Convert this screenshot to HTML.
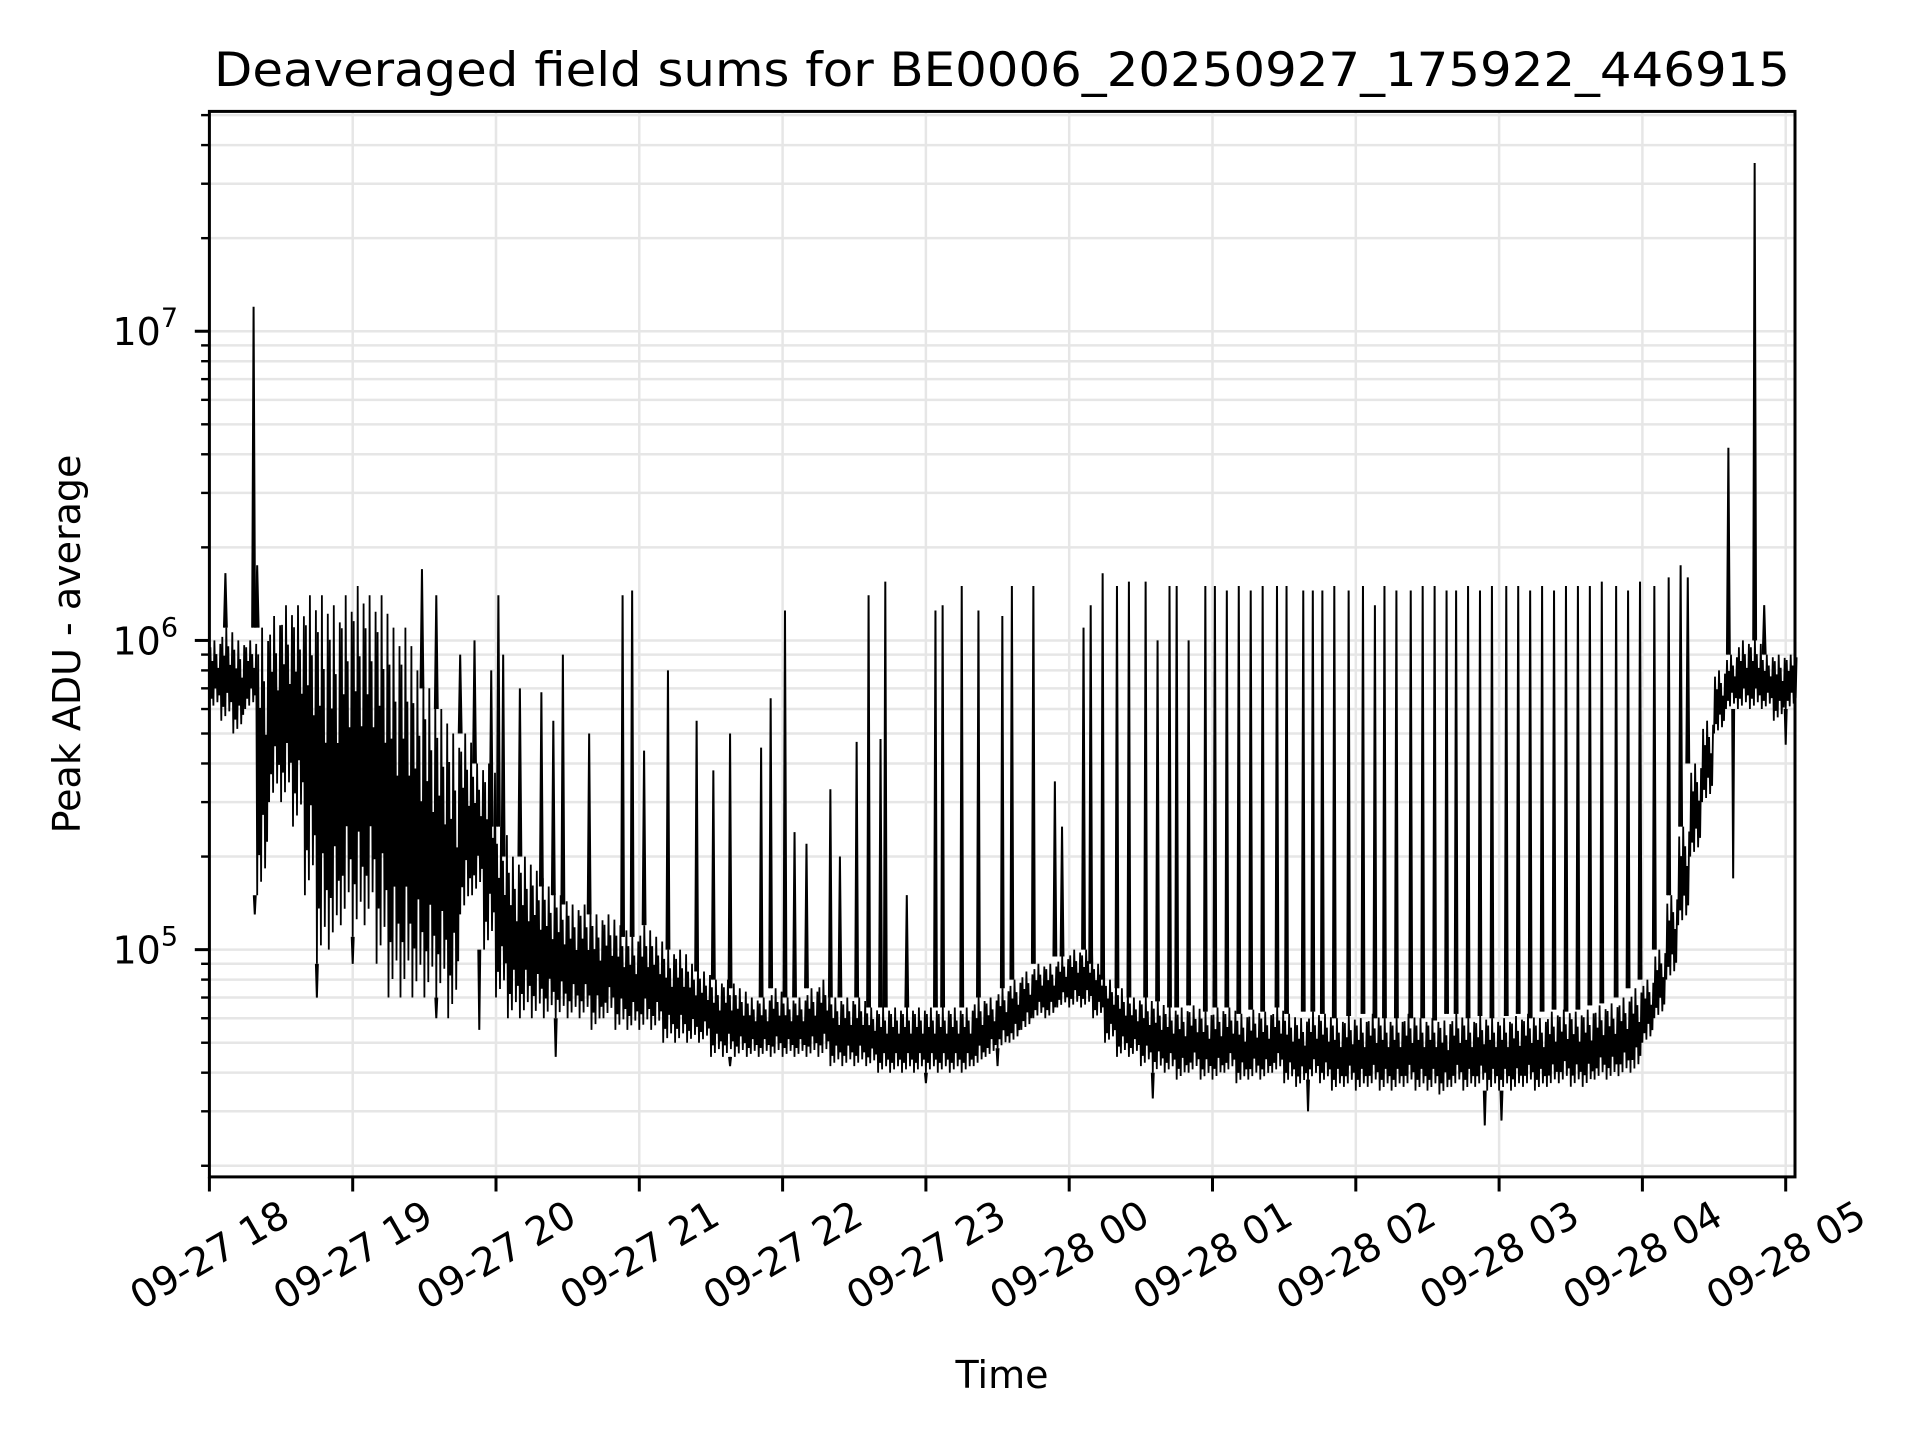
<!DOCTYPE html>
<html><head><meta charset="utf-8"><title>Deaveraged field sums</title>
<style>html,body{margin:0;padding:0;background:#fff}svg{display:block}text{font-family:"DejaVu Sans","Liberation Sans",sans-serif;fill:#000}</style></head>
<body>
<svg id="chart" width="1920" height="1440" viewBox="0 0 1920 1440" xmlns="http://www.w3.org/2000/svg">
<rect width="1920" height="1440" fill="#fff"/>
<g id="grid"></g>
<g id="series"></g>
<rect x="209.4" y="111.4" width="1585.6" height="1065.5" fill="none" stroke="#000" stroke-width="3"/>
<g id="axes"></g>
<text x="1002" y="86" text-anchor="middle" font-size="47" textLength="1576" lengthAdjust="spacingAndGlyphs">Deaveraged field sums for BE0006_20250927_175922_446915</text>
<text x="1002" y="1388" text-anchor="middle" font-size="38">Time</text>
<text transform="translate(80,644) rotate(-90)" text-anchor="middle" font-size="38">Peak ADU - average</text>
</svg>
<script>
// bins every 5 minutes starting 09-27 18:00
const binLow = [6e5,5.5e5,5e5,6e5,1.5e5,3e5,3e5,2.5e5,1.5e5,9e4,1e5,1.2e5,1.1e5,1.2e5,9e4,7e4,7e4,7e4,7e4,7e4,6e4,1.3e5,1.5e5,1e5,
7e4,6e4,6e4,6e4,6e4,6e4,6e4,6e4,5.5e4,6e4,5.5e4,5.5e4,5.5e4,5.5e4,5e4,5e4,5e4,5e4,4.5e4,4.5e4,4.5e4,4.5e4,4.5e4,4.5e4,
4.5e4,4.5e4,4.5e4,4.5e4,4.2e4,4.2e4,4.2e4,4.2e4,4e4,4e4,4e4,4e4,4e4,4e4,4e4,4e4,4.2e4,4.5e4,4.8e4,5e4,5.5e4,6e4,6e4,6.5e4,
6.5e4,6.5e4,6e4,5e4,4.5e4,4.5e4,4.2e4,4e4,4e4,3.8e4,4e4,3.8e4,3.8e4,4e4,3.7e4,3.8e4,3.8e4,4e4,3.7e4,3.6e4,3.8e4,3.7e4,
3.5e4,3.6e4,3.5e4,3.6e4,3.5e4,3.5e4,3.6e4,3.5e4,3.5e4,3.4e4,3.6e4,3.5e4,3.6e4,3.5e4,3.5e4,3.5e4,3.6e4,3.5e4,3.6e4,3.7e4,3.6e4,3.6e4,3.8e4,3.8e4,3.9e4,4e4,
5e4,6e4,8e4,1.2e5,2e5,3e5,5e5,6e5,6e5,6e5,6e5,5.5e5,6e5];
const binHigh = [1e6,1.1e6,1e6,1e6,1.1e6,1.2e6,1.3e6,1.3e6,1.4e6,1.4e6,1.3e6,1.4e6,1.5e6,1.4e6,1.4e6,1.1e6,1.1e6,8e5,7e5,6e5,5e5,5e5,4e5,4e5,
2.5e5,2e5,2e5,1.8e5,1.6e5,1.5e5,1.4e5,1.4e5,1.3e5,1.3e5,1.2e5,1.1e5,1.2e5,1.1e5,1e5,1e5,9e4,8.5e4,8e4,8e4,7.5e4,7e4,7e4,7.5e4,
7e4,7e4,7.5e4,8e4,7e4,7e4,7e4,6.5e4,6.5e4,6.5e4,6.5e4,6.5e4,6.5e4,6.5e4,6.5e4,6.5e4,7e4,7e4,7.5e4,8e4,8.5e4,9e4,9e4,9.5e4,
1e5,1e5,9e4,8e4,7.5e4,7e4,7e4,6.8e4,6.5e4,6.5e4,6.6e4,6.3e4,6.5e4,6.5e4,6.2e4,6.4e4,6.3e4,6.5e4,6.2e4,6e4,6.3e4,6.2e4,
6e4,6.1e4,6e4,6.2e4,6e4,6e4,6.2e4,6e4,6e4,5.9e4,6.2e4,6e4,6.1e4,6e4,6e4,6.1e4,6.2e4,6e4,6.3e4,6.4e4,6.3e4,6.4e4,6.6e4,6.7e4,7e4,7.5e4,
8e4,1e5,1.5e5,2.5e5,4e5,5.5e5,8e5,9e5,1e6,1e6,9e5,9e5,9e5];
const spikeMinutes = [6.7,18.5,20,89,95,105,111,118,121,123,130,139,144,148,159,173,177,182,192,204,211,218,231,235,241,245,250,260,264,271,276,281,283,292,304,307,315,322,332,336,345,354,357,
366,369,374,380,385,392,397,402,405,410,417,421,426,431,436,441,447,451,458,462,466,471,477,483,488,492,497,503,508,513,518,522,527,532,537,543,548,553,558,563,568,573,578,583,589,594,599,605,611,616,619,636,647,651];
const spikeValues = [1.65e6,1.2e7,1.75e6,1.7e6,1.4e6,9e5,1e6,8e5,1.4e6,9e5,7e5,6.8e5,5.5e5,9e5,5e5,1.4e6,1.45e6,4.4e5,8e5,5.5e5,3.8e5,5e5,4.5e5,6.5e5,1.25e6,2.4e5,2.2e5,3.3e5,2e5,4.7e5,1.4e6,4.8e5,1.55e6,1.5e5,1.25e6,1.3e6,1.5e6,1.25e6,1.2e6,1.5e6,1.5e6,3.5e5,2.5e5,
1.1e6,1.3e6,1.65e6,1.5e6,1.55e6,1.55e6,1e6,1.5e6,1.5e6,1e6,1.5e6,1.5e6,1.45e6,1.5e6,1.45e6,1.5e6,1.5e6,1.5e6,1.45e6,1.45e6,1.45e6,1.5e6,1.45e6,1.5e6,1.3e6,1.5e6,1.45e6,1.45e6,1.5e6,1.5e6,1.45e6,1.45e6,1.5e6,1.45e6,1.5e6,1.5e6,1.5e6,1.45e6,1.5e6,1.45e6,1.5e6,1.5e6,1.5e6,1.55e6,1.5e6,1.45e6,1.55e6,1.5e6,1.6e6,1.75e6,1.6e6,4.2e6,3.5e7,1.3e6];
const dipMinutes = [19,45,60,95,113,145,218,300,330,395,460,534,541,638,660];
const dipValues = [1.3e5,7e4,9e4,6e4,5.5e4,4.5e4,4.2e4,3.7e4,4.2e4,3.3e4,3e4,2.7e4,2.8e4,1.7e5,4.6e5];
const xTickLabels = ["09-27 18","09-27 19","09-27 20","09-27 21","09-27 22","09-27 23","09-28 00","09-28 01","09-28 02","09-28 03","09-28 04","09-28 05"];
const yTickExps = [5,6,7];

const L=209.4,R=1795,T=111.4,B=1176.9,LMIN=4.265,LMAX=7.711,PX_PER_HOUR=143.3;
const NS="http://www.w3.org/2000/svg";
function xs(m){return L+m*PX_PER_HOUR/60;}
function ys(v){return B-(Math.log10(v)-LMIN)/(LMAX-LMIN)*(B-T);}
function mk(tag,attrs,parent){const e=document.createElementNS(NS,tag);for(const k in attrs)e.setAttribute(k,attrs[k]);parent.appendChild(e);return e;}
const grid=document.getElementById('grid'),axes=document.getElementById('axes'),series=document.getElementById('series');

xTickLabels.forEach((lab,i)=>{
  const x=xs(i*60);
  const g=mk('line',{x1:x,x2:x,y1:T,y2:B,stroke:'#e6e6e6','stroke-width':2.5},grid);
  
  
  const t=mk('line',{x1:x,x2:x,y1:B,y2:B+14.6,stroke:'#000','stroke-width':3},axes);
  
  
  const tx=mk('text',{x:0,y:0,dy:'0.35em','font-size':39,'text-anchor':'middle',transform:`translate(${x},${B+78}) rotate(-30)`},axes);
  tx.textContent=lab;
  
  
});
for(let e=4;e<=7;e++){
  for(let k=1;k<=9;k++){
    const v=k*Math.pow(10,e),y=ys(v);
    if(y<T-0.5||y>B+0.5)continue;
    const g=mk('line',{x1:L,x2:R,y1:y,y2:y,stroke:'#e6e6e6','stroke-width':2.5},grid);
    
    
    const t=mk('line',{x1:L-(k===1?14.6:8.3),x2:L,y1:y,y2:y,stroke:'#000','stroke-width':k===1?3:2.4},axes);
    
    
  }
}
yTickExps.forEach(e=>{
  const y=ys(Math.pow(10,e));
  const tx=mk('text',{x:178,y:y+14,'font-size':38,'text-anchor':'end'},axes);
  
  
  const a=document.createElementNS(NS,'tspan');a.textContent='10';tx.appendChild(a);
  const b=document.createElementNS(NS,'tspan');b.textContent=String(e);b.setAttribute('font-size','27');b.setAttribute('dy','-18');tx.appendChild(b);
});

// band: zigzag between each bin's low and high (log-space fractions give texture)
const zig=[0,0.9,0.15,0.7,0.05,1,0.3,0.8,0.1,0.6,0.2,0.95];
let d='';
binLow.forEach((lo,i)=>{
  const hi=binHigh[i],a=Math.log10(lo),b=Math.log10(hi);
  zig.forEach((f,k)=>{
    const m=i*5+k*5/zig.length;
    const v=Math.pow(10,a+(b-a)*f);
    d+=(d?'L':'M')+xs(m).toFixed(1)+' '+ys(v).toFixed(1);
  });
});
const band=mk('path',{d:d,fill:'none',stroke:'#000','stroke-width':1.8,'stroke-linejoin':'bevel'},series);


function baseAt(m,arr){const i=Math.min(arr.length-1,Math.max(0,Math.round(m/5)));return arr[i];}
spikeMinutes.forEach((m,i)=>{
  const b=baseAt(m,binHigh);
  const p=mk('path',{d:`M${xs(m-0.6)} ${ys(b)}L${xs(m)} ${ys(spikeValues[i])}L${xs(m+0.6)} ${ys(b)}`,fill:'#000',stroke:'#000','stroke-width':2},series);
  
  
});
dipMinutes.forEach((m,i)=>{
  const b=baseAt(m,binLow);
  const p=mk('path',{d:`M${xs(m-0.4)} ${ys(b)}L${xs(m)} ${ys(dipValues[i])}L${xs(m+0.4)} ${ys(b)}`,fill:'none',stroke:'#000','stroke-width':2},series);
  
  
});
</script>
</body></html>
